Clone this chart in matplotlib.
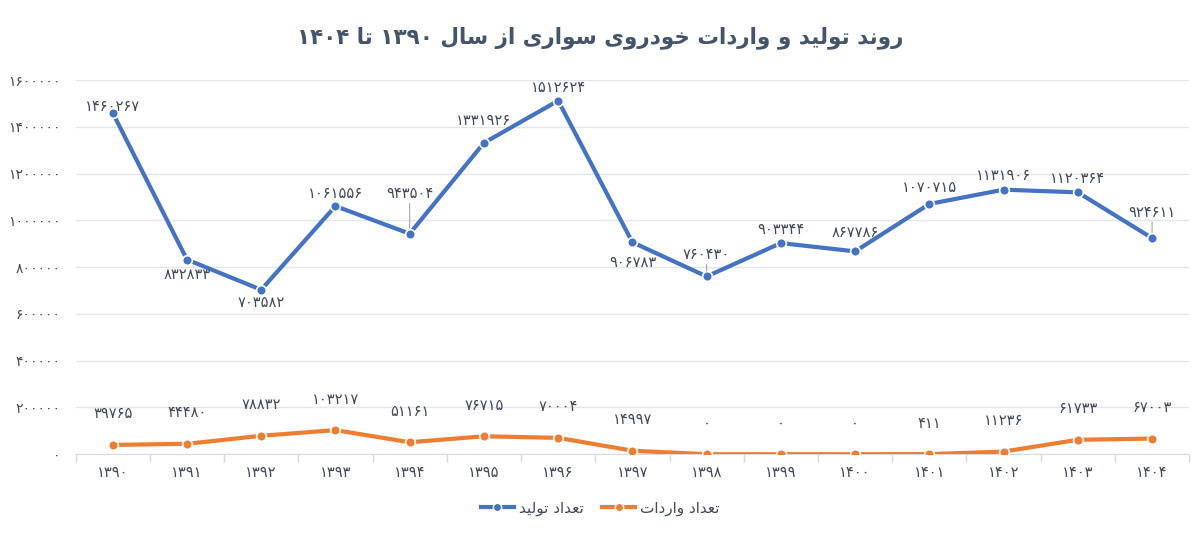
import matplotlib
matplotlib.use('Agg')
import matplotlib.pyplot as plt
from matplotlib.lines import Line2D

years = [1390, 1391, 1392, 1393, 1394, 1395, 1396, 1397,
         1398, 1399, 1400, 1401, 1402, 1403, 1404]
production = [1460267, 832833, 703582, 1061556, 943504, 1331926, 1512624, 906783,
              760430, 903344, 867786, 1070715, 1131906, 1120364, 924611]
imports = [39765, 44480, 78832, 103217, 51161, 76715, 70004, 14997,
           0, 0, 0, 411, 11236, 61733, 67003]

title_text = 'روند تولید و واردات خودروی سواری از سال ۱۳۹۰ تا ۱۴۰۴'
prod_name = 'تعداد تولید'
imp_name = 'تعداد واردات'

# label offsets in pixels (vertical), tuned by eye
prod_off = [6, -15, -13, 13, 40, 22, 13, -20, 22, 14, 19, 16, 14, 14, 26]
prod_lead = [False, False, False, False, True, False, False, False,
             True, False, False, False, False, False, True]

BLUE = '#4472C4'
ORANGE = '#ED7D31'
TXT = '#404A5A'

FORMS = {
    'ا': ('\uFE8D', '\uFE8E', None, None),
    'د': ('\uFEA9', '\uFEAA', None, None),
    'ر': ('\uFEAD', '\uFEAE', None, None),
    'ز': ('\uFEAF', '\uFEB0', None, None),
    'و': ('\uFEED', '\uFEEE', None, None),
    'ت': ('\uFE95', '\uFE96', '\uFE97', '\uFE98'),
    'ن': ('\uFEE5', '\uFEE6', '\uFEE7', '\uFEE8'),
    'ل': ('\uFEDD', '\uFEDE', '\uFEDF', '\uFEE0'),
    'ی': ('\uFEEF', '\uFEF0', '\uFEF3', '\uFEF4'),
    'خ': ('\uFEA5', '\uFEA6', '\uFEA7', '\uFEA8'),
    'س': ('\uFEB1', '\uFEB2', '\uFEB3', '\uFEB4'),
    'ع': ('\uFEC9', '\uFECA', '\uFECB', '\uFECC'),
}


def shape_word(w):
    out = []
    for i, c in enumerate(w):
        if c not in FORMS:
            out.append(c)
            continue
        p = i > 0 and w[i - 1] in FORMS and FORMS[w[i - 1]][2] is not None
        n = i < len(w) - 1 and w[i + 1] in FORMS and FORMS[c][2] is not None
        f = FORMS[c]
        if p and n:
            out.append(f[3])
        elif p:
            out.append(f[1])
        elif n:
            out.append(f[2])
        else:
            out.append(f[0])
    return ''.join(out)


def rtl(text):
    toks = []
    for t in reversed(text.split(' ')):
        if any(ch in FORMS for ch in t):
            toks.append(shape_word(t)[::-1])
        else:
            toks.append(t)
    return ' '.join(toks)


def fa(n):
    return str(n).translate(str.maketrans('0123456789', '۰۱۲۳۴۵۶۷۸۹'))


plt.rcParams['font.family'] = ['DejaVu Sans']

fig = plt.figure(figsize=(12, 5.35), dpi=100)
ax = fig.add_axes([0.063, 0.151, 0.928, 0.699])

x = list(range(len(years)))
ax.plot(x, production, color=BLUE, lw=3, marker='o', ms=7,
        mfc=BLUE, mec='white', mew=1.2, zorder=3, solid_capstyle='round')
ax.plot(x, imports, color=ORANGE, lw=3, marker='o', ms=7,
        mfc=ORANGE, mec='white', mew=1.2, zorder=3, solid_capstyle='round')

px = 72 / 100
for i, v in enumerate(production):
    off = prod_off[i]
    ax.annotate(fa(v), (i, v), xytext=(0, off * px), textcoords='offset points',
                ha='center', va='center', fontsize=10.5, color=TXT, zorder=4)
    if prod_lead[i]:
        ax.annotate('', (i, v), xytext=(0, (off - 10) * px), textcoords='offset points',
                    arrowprops=dict(arrowstyle='-', color='#A6A6A6', lw=0.8,
                                    shrinkA=0, shrinkB=4))
for i, v in enumerate(imports):
    ax.annotate(fa(v), (i, v), xytext=(0, 31 * px), textcoords='offset points',
                ha='center', va='center', fontsize=10.5, color=TXT, zorder=4)

ax.set_xlim(-0.5, len(years) - 0.5)
ax.set_ylim(0, 1600000)
yt = list(range(0, 1600001, 200000))
ax.set_yticks(yt)
ax.set_yticklabels([fa(t) for t in yt], fontsize=10, color=TXT)
ax.set_xticks(x)
ax.set_xticklabels([fa(y) for y in years], fontsize=10.5, color=TXT)
ax.set_xticks([i + 0.5 for i in range(-1, len(years))], minor=True)
ax.tick_params(axis='x', which='major', length=0, pad=8)
ax.tick_params(axis='x', which='minor', length=6, color='#D9D9D9', width=1)
ax.tick_params(axis='y', length=0, pad=11)

ax.grid(axis='y', color='#E3E6EC', lw=1)
ax.set_axisbelow(True)
for s in ['top', 'right', 'left']:
    ax.spines[s].set_visible(False)
ax.spines['bottom'].set_color('#D9D9D9')

fig.text(0.5, 0.93, rtl(title_text), ha='center', va='center',
         fontsize=15.5, fontweight='bold', color='#44546A')

handles = [Line2D([], [], color=BLUE, lw=3, marker='o', ms=6, mfc=BLUE, mec='white'),
           Line2D([], [], color=ORANGE, lw=3, marker='o', ms=6, mfc=ORANGE, mec='white')]
fig.legend(handles, [rtl(prod_name), rtl(imp_name)], loc='center',
           bbox_to_anchor=(0.5, 0.05), ncol=2, frameon=False, fontsize=11,
           handlelength=2.2, columnspacing=1.2, handletextpad=0.3,
           labelcolor=TXT)

fig.savefig('out.png', dpi=100, facecolor='white')
